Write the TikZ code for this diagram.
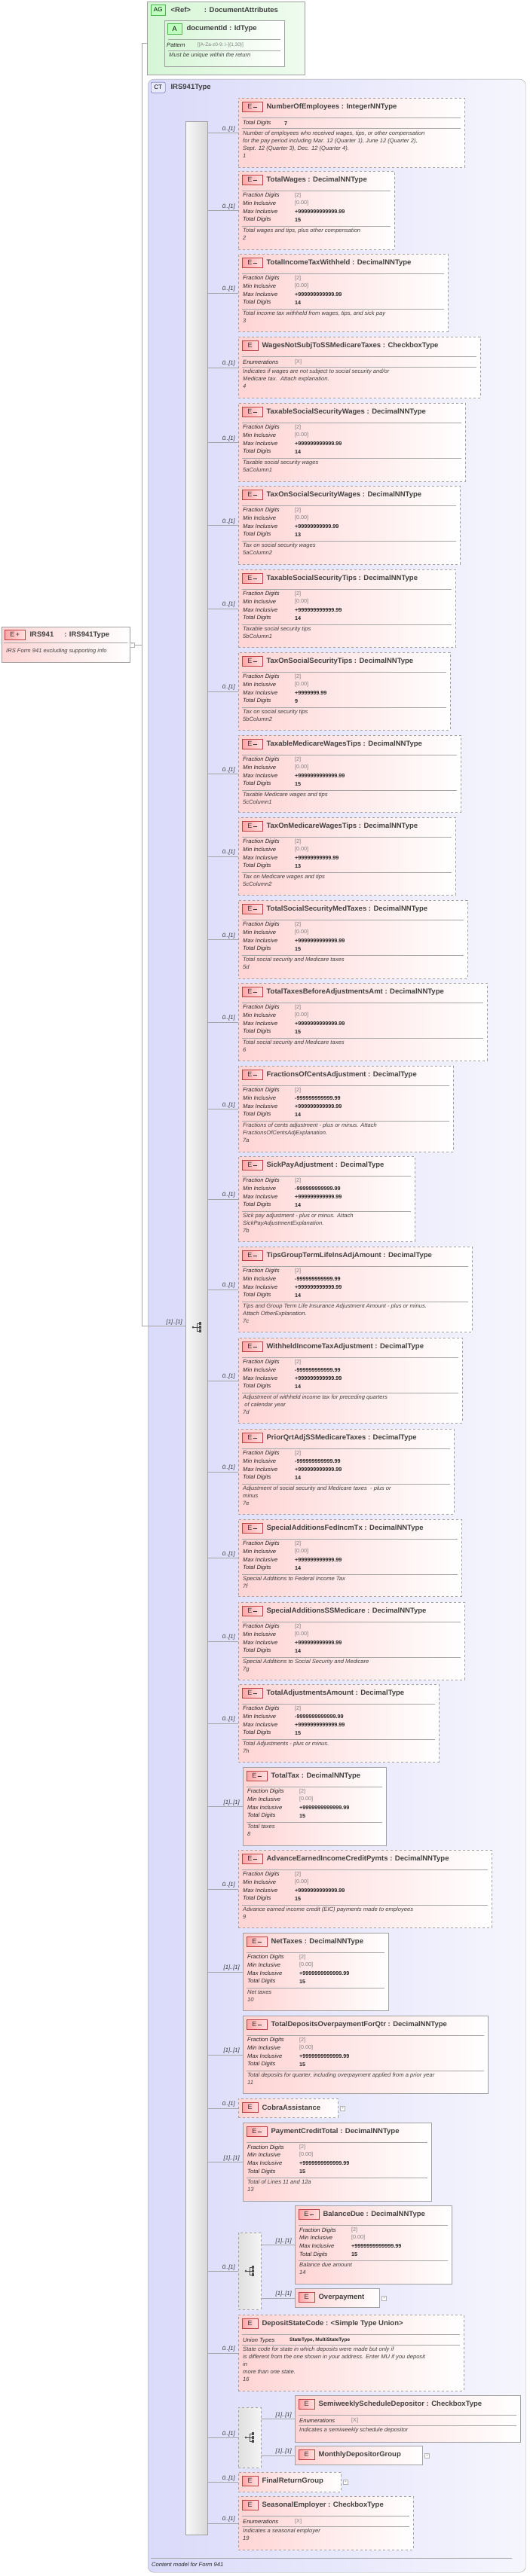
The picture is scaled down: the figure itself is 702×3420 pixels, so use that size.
\documentclass[tikz,border=0pt]{standalone}
\usepackage{fontspec}
\setmainfont{Liberation Sans}
\usetikzlibrary{positioning}

\definecolor{elpink}{RGB}{255,212,212}
\definecolor{ctblue}{RGB}{218,218,250}
\definecolor{aggreen}{RGB}{214,246,214}
\definecolor{edge}{RGB}{160,160,160}

\newcommand{\gv}[1]{{\color{gray}\mdseries #1}}
\newcommand{\iconmtxt}{E\,\rule[.3ex]{5pt}{1.8pt}}
\newcommand{\iconptxt}{E}

% element box with icon and title
\newcommand{\elbox}[8]{%
  \node[#2, minimum width=#5pt-#3pt, minimum height=#6pt-#4pt] (#1) at (#3,#4) {};
  \node[#7] (#1i) at ([xshift=5pt,yshift=-5pt]#1.north west) {\csname #7txt\endcsname};
  \node[ttl, right=5pt of #1i] {#8};}
\newcommand{\sepl}[2]{\draw[sep] ([xshift=5pt,yshift=-#2pt]#1.north west) -- ([xshift=-5pt,yshift=-#2pt]#1.north east);}
\newcommand{\prow}[4]{%
  \node[plab] at ([xshift=6pt,yshift=-#2pt]#1.north west) {#3};
  \node[pval] at ([xshift=75pt,yshift=-#2pt]#1.north west) {#4};}
\newcommand{\desc}[3]{\node[pdesc] at ([xshift=6pt,yshift=-#2pt]#1.north west) {#3};}
\newcommand{\decrows}[5]{%
  \sepl{#1}{26}
  \prow{#1}{33}{Fraction Digits}{\gv{[2]}}
  \prow{#1}{43}{Min Inclusive}{#2}
  \prow{#1}{54}{Max Inclusive}{#3}
  \prow{#1}{65}{Total Digits}{#4}
  \sepl{#1}{73}
  \desc{#1}{76}{#5}}
\newcommand{\chkrows}[2]{%
  \sepl{#1}{26}
  \prow{#1}{34}{Enumerations}{\gv{[X]}}
  \sepl{#1}{40}
  \desc{#1}{43}{#2}}
\newcommand{\conn}[3]{\draw[line] (#2.west -| #1.east) -- (#2.west) node[mult, pos=1, anchor=south east, xshift=-3pt] {#3};}
\newcommand{\plusbox}[1]{\node[plusb, right=3pt of #1] {+};}
\newcommand{\seqmark}[2]{%
  \fill[black!70] ({#1-6},#2) circle (1.5);
  \draw[black!70] ({#1-6},#2) -- ({#1-1},#2) ({#1-1},{#2-5}) -- ({#1-1},{#2+5});
  \foreach \dy in {-5,0,5} {\draw[black!70] ({#1-1},{#2+\dy}) -- ({#1+2},{#2+\dy});
    \fill[black!70] ({#1+2},{#2+\dy-1.6}) rectangle ({#1+5},{#2+\dy+1.6});}}

\tikzset{
  elbase/.style={anchor=north west, inner sep=0pt, left color=elpink, right color=white, draw=edge},
  optel/.style={elbase, dashed},
  reqel/.style={elbase},
  choice/.style={anchor=north west, inner sep=0pt, dashed, draw=edge, left color=gray!25, right color=gray!8},
  eicon/.style={anchor=north west, draw=red!50!gray, left color=red!35, right color=red!12, inner sep=0pt,
    minimum height=13pt, font=\fontsize{9}{9}\selectfont, text=black!80},
  iconm/.style={eicon, minimum width=27pt},
  iconp/.style={eicon, minimum width=21pt},
  ttl/.style={inner sep=0pt, font=\fontsize{9.5}{11}\selectfont\bfseries, text=black!75},
  sep/.style={draw=gray!70},
  plab/.style={anchor=west, inner sep=0pt, font=\fontsize{7.6}{9}\selectfont\itshape, text=black!85},
  pval/.style={anchor=west, inner sep=0pt, font=\fontsize{7.2}{9}\selectfont\bfseries, text=black!85},
  pdesc/.style={anchor=north west, inner sep=0pt, align=left, font=\fontsize{7.6}{10}\selectfont\itshape, text=black!75},
  mult/.style={inner sep=1pt, font=\fontsize{7.6}{9}\selectfont\itshape, text=black!80},
  line/.style={draw=gray!70},
  plusb/.style={draw=gray!60, fill=white, minimum size=6pt, inner sep=0pt, font=\tiny, text=gray}
}

\begin{document}
\begin{tikzpicture}[x=1pt, y=-1pt]
  \useasboundingbox (0,0) rectangle (702,3420);

  % attribute group
  \node[anchor=north west, inner sep=0pt, draw=edge, left color=aggreen, right color=aggreen!40, minimum width=209pt, minimum height=97pt] (ag) at (195,2) {};
  \node[anchor=north west, draw=green!40!gray, fill=green!25, inner sep=1pt, minimum width=19pt, minimum height=14pt, font=\fontsize{8}{8}\selectfont] (agi) at (200,6) {AG};
  \node[ttl, right=7pt of agi] {<Ref>\hspace{18pt}: DocumentAttributes};
  \node[anchor=north west, inner sep=0pt, draw=edge, left color=aggreen, right color=white, minimum width=159pt, minimum height=61pt] (docId) at (218,27) {};
  \node[anchor=north west, draw=green!40!gray, fill=green!25, inner sep=0pt, minimum width=19pt, minimum height=14pt, font=\fontsize{9}{9}\selectfont] (docIdi) at (222,31) {A};
  \node[ttl, right=6pt of docIdi] {documentId : IdType};
  \sepl{docId}{25}
  \node[plab] at ([xshift=3pt,yshift=-33pt]docId.north west) {Pattern};
  \node[pval, font=\fontsize{6.5}{8}\selectfont] at ([xshift=44pt,yshift=-33pt]docId.north west) {\gv{[[A-Za-z0-9:.\textbackslash-]\{1,30\}]}};
  \sepl{docId}{40}
  \desc{docId}{43}{Must be unique within the return};

  % root element
  \node[reqel, minimum width=170pt, minimum height=47pt] (root) at (2,832) {};
  \node[eicon, minimum width=27pt] (rooti) at (6,836) {E\,+};
  \node[ttl, right=6pt of rooti] {IRS941\hspace{14pt}: IRS941Type};
  \draw[sep] (5,853) -- (169,853);
  \desc{root}{29}{IRS Form 941 excluding supporting info}
  \node[draw=gray!60, fill=white, minimum size=6pt, inner sep=0pt, font=\tiny, text=gray, right=0pt of root] (rootm) {--};

  % complex type
  \node[anchor=north west, inner sep=0pt, rounded corners=8pt, draw=edge, left color=ctblue, right color=ctblue!25, minimum width=501pt, minimum height=3310pt] (ct) at (196,105) {};
  \node[anchor=north west, draw=blue!40!gray, fill=ctblue!60, rounded corners=2pt, inner sep=0pt, minimum width=19pt, minimum height=14pt, font=\fontsize{8}{8}\selectfont] (cti) at (200,109) {CT};
  \node[ttl, right=7pt of cti] {IRS941Type};
  \draw[sep] (200,3396) -- (679,3396);
  \node[plab] at (201,3405) {Content model for Form 941};

  \node[anchor=north west, inner sep=0pt, draw=edge, left color=white!95!gray, right color=gray!30, minimum width=29pt, minimum height=3204pt] (seq) at (246,161) {};

  \coordinate (tp) at (188,57);
  \coordinate (bt) at (188,1760);
  \draw[line] (ag.west |- tp) -- (tp) -- (bt) -- (seq.west |- bt) node[mult, pos=1, anchor=south east, xshift=-3pt] {[1]..[1]};
  \draw[line] (rootm.east) -- (rootm.east -| tp);
  \seqmark{262}{1762}

  % sequence content
  \elbox{nEmp}{optel}{316}{130}{616}{222}{iconm}{NumberOfEmployees : IntegerNNType}
  \sepl{nEmp}{26}
  \node[plab] at ([xshift=6pt,yshift=-34pt]nEmp.north west) {Total Digits};
  \node[pval] at ([xshift=61pt,yshift=-34pt]nEmp.north west) {7};
  \sepl{nEmp}{40}
  \desc{nEmp}{44}{Number of employees who received wages, tips, or other compensation\\for the pay period including Mar. 12 (Quarter 1), June 12 (Quarter 2),\\Sept. 12 (Quarter 3), Dec. 12 (Quarter 4).\\1}

  \elbox{nWag}{optel}{316}{227}{523}{331}{iconm}{TotalWages : DecimalNNType}
  \decrows{nWag}{\gv{[0.00]}}{+9999999999999.99}{15}{Total wages and tips, plus other compensation\\2}
  \elbox{nITW}{optel}{316}{337}{594}{440}{iconm}{TotalIncomeTaxWithheld : DecimalNNType}
  \decrows{nITW}{\gv{[0.00]}}{+999999999999.99}{14}{Total income tax withheld from wages, tips, and sick pay\\3}
  \elbox{nWNS}{optel}{316}{447}{637}{528}{iconp}{WagesNotSubjToSSMedicareTaxes : CheckboxType}
  \chkrows{nWNS}{Indicates if wages are not subject to social security and/or\\Medicare tax.\ \ Attach explanation.\\4}
  \elbox{nTSW}{optel}{316}{535}{617}{639}{iconm}{TaxableSocialSecurityWages : DecimalNNType}
  \decrows{nTSW}{\gv{[0.00]}}{+999999999999.99}{14}{Taxable social security wages\\5aColumn1}
  \elbox{nTOW}{optel}{316}{645}{610}{749}{iconm}{TaxOnSocialSecurityWages : DecimalNNType}
  \decrows{nTOW}{\gv{[0.00]}}{+99999999999.99}{13}{Tax on social security wages\\5aColumn2}
  \elbox{nTST}{optel}{316}{756}{604}{859}{iconm}{TaxableSocialSecurityTips : DecimalNNType}
  \decrows{nTST}{\gv{[0.00]}}{+999999999999.99}{14}{Taxable social security tips\\5bColumn1}
  \elbox{nTOT}{optel}{316}{866}{597}{969}{iconm}{TaxOnSocialSecurityTips : DecimalNNType}
  \decrows{nTOT}{\gv{[0.00]}}{+9999999.99}{9}{Tax on social security tips\\5bColumn2}
  \elbox{nTMW}{optel}{316}{976}{611}{1078}{iconm}{TaxableMedicareWagesTips : DecimalNNType}
  \decrows{nTMW}{\gv{[0.00]}}{+9999999999999.99}{15}{Taxable Medicare wages and tips\\5cColumn1}
  \elbox{nTOM}{optel}{316}{1085}{604}{1188}{iconm}{TaxOnMedicareWagesTips : DecimalNNType}
  \decrows{nTOM}{\gv{[0.00]}}{+99999999999.99}{13}{Tax on Medicare wages and tips\\5cColumn2}
  \elbox{nTSM}{optel}{316}{1195}{620}{1299}{iconm}{TotalSocialSecurityMedTaxes : DecimalNNType}
  \decrows{nTSM}{\gv{[0.00]}}{+9999999999999.99}{15}{Total social security and Medicare taxes\\5d}
  \elbox{nTTB}{optel}{316}{1305}{646}{1408}{iconm}{TotalTaxesBeforeAdjustmentsAmt : DecimalNNType}
  \decrows{nTTB}{\gv{[0.00]}}{+9999999999999.99}{15}{Total social security and Medicare taxes\\6}
  \elbox{nFCA}{optel}{316}{1415}{601}{1529}{iconm}{FractionsOfCentsAdjustment : DecimalType}
  \decrows{nFCA}{-999999999999.99}{+999999999999.99}{14}{Fractions of cents adjustment - plus or minus. Attach\\FractionsOfCentsAdjExplanation.\\7a}
  \elbox{nSPA}{optel}{316}{1535}{550}{1648}{iconm}{SickPayAdjustment : DecimalType}
  \decrows{nSPA}{-999999999999.99}{+999999999999.99}{14}{Sick pay adjustment - plus or minus. Attach\\SickPayAdjustmentExplanation.\\7b}
  \elbox{nTGT}{optel}{316}{1655}{626}{1768}{iconm}{TipsGroupTermLifeInsAdjAmount : DecimalType}
  \decrows{nTGT}{-999999999999.99}{+999999999999.99}{14}{Tips and Group Term Life Insurance Adjustment Amount - plus or minus.\\Attach OtherExplanation.\\7c}
  \elbox{nWIT}{optel}{316}{1776}{613}{1889}{iconm}{WithheldIncomeTaxAdjustment : DecimalType}
  \decrows{nWIT}{-999999999999.99}{+999999999999.99}{14}{Adjustment of withheld income tax for preceding quarters\\\ of calendar year\\7d}
  \elbox{nPQA}{optel}{316}{1897}{602}{2010}{iconm}{PriorQrtAdjSSMedicareTaxes : DecimalType}
  \decrows{nPQA}{-999999999999.99}{+999999999999.99}{14}{Adjustment of social security and Medicare taxes\ \ - plus or\\minus\\7e}
  \elbox{nSAF}{optel}{316}{2017}{612}{2119}{iconm}{SpecialAdditionsFedIncmTx : DecimalNNType}
  \decrows{nSAF}{\gv{[0.00]}}{+999999999999.99}{14}{Special Additions to Federal Income Tax\\7f}
  \elbox{nSAS}{optel}{316}{2127}{616}{2230}{iconm}{SpecialAdditionsSSMedicare : DecimalNNType}
  \decrows{nSAS}{\gv{[0.00]}}{+999999999999.99}{14}{Special Additions to Social Security and Medicare\\7g}
  \elbox{nTAA}{optel}{316}{2236}{582}{2339}{iconm}{TotalAdjustmentsAmount : DecimalType}
  \decrows{nTAA}{-9999999999999.99}{+9999999999999.99}{15}{Total Adjustments - plus or minus.\\7h}
  \elbox{nTTx}{reqel}{322}{2346}{512}{2450}{iconm}{TotalTax : DecimalNNType}
  \decrows{nTTx}{\gv{[0.00]}}{+9999999999999.99}{15}{Total taxes\\8}
  \elbox{nAEI}{optel}{316}{2456}{652}{2559}{iconm}{AdvanceEarnedIncomeCreditPymts : DecimalNNType}
  \decrows{nAEI}{\gv{[0.00]}}{+9999999999999.99}{15}{Advance earned income credit (EIC) payments made to employees\\9}
  \elbox{nNet}{reqel}{322}{2566}{515}{2669}{iconm}{NetTaxes : DecimalNNType}
  \decrows{nNet}{\gv{[0.00]}}{+9999999999999.99}{15}{Net taxes\\10}
  \elbox{nTDO}{reqel}{322}{2676}{647}{2779}{iconm}{TotalDepositsOverpaymentForQtr : DecimalNNType}
  \decrows{nTDO}{\gv{[0.00]}}{+9999999999999.99}{15}{Total deposits for quarter, including overpayment applied from a prior year\\11}
  \elbox{nCob}{optel}{316}{2786}{448}{2811}{iconp}{CobraAssistance}
  \plusbox{nCob}
  \elbox{nPCT}{reqel}{322}{2818}{572}{2922}{iconm}{PaymentCreditTotal : DecimalNNType}
  \decrows{nPCT}{\gv{[0.00]}}{+9999999999999.99}{15}{Total of Lines 11 and 12a\\13}

  \node[choice, minimum width=30pt, minimum height=102pt] (chA) at (316,2964) {};
  \seqmark{332}{3015}
  \elbox{nBal}{reqel}{391}{2928}{599}{3032}{iconm}{BalanceDue : DecimalNNType}
  \decrows{nBal}{\gv{[0.00]}}{+9999999999999.99}{15}{Balance due amount\\14}
  \elbox{nOvp}{reqel}{391}{3038}{503}{3063}{iconp}{Overpayment}
  \plusbox{nOvp}

  \elbox{nDSC}{optel}{316}{3073}{615}{3174}{iconp}{DepositStateCode : <Simple Type Union>}
  \sepl{nDSC}{26}
  \node[plab] at ([xshift=6pt,yshift=-34pt]nDSC.north west) {Union Types};
  \node[pval, font=\fontsize{6.5}{8}\selectfont\bfseries] at ([xshift=68pt,yshift=-34pt]nDSC.north west) {StateType, MultiStateType};
  \sepl{nDSC}{40}
  \desc{nDSC}{43}{State code for state in which deposits were made but only if\\is different from the one shown in your address. Enter MU if you deposit\\in\\more than one state.\\16}

  \node[choice, minimum width=30pt, minimum height=80pt] (chB) at (316,3196) {};
  \seqmark{332}{3236}
  \elbox{nSWS}{reqel}{391}{3180}{690}{3242}{iconp}{SemiweeklyScheduleDepositor : CheckboxType}
  \chkrows{nSWS}{Indicates a semiweekly schedule depositor}
  \elbox{nMDG}{reqel}{391}{3247}{560}{3272}{iconp}{MonthlyDepositorGroup}
  \plusbox{nMDG}

  \elbox{nFRG}{optel}{316}{3282}{452}{3308}{iconp}{FinalReturnGroup}
  \plusbox{nFRG}
  \elbox{nSea}{optel}{316}{3314}{548}{3385}{iconp}{SeasonalEmployer : CheckboxType}
  \chkrows{nSea}{Indicates a seasonal employer\\19}

  % connectors
  \foreach \el in {nEmp,nWag,nITW,nWNS,nTSW,nTOW,nTST,nTOT,nTMW,nTOM,nTSM,nTTB,nFCA,nSPA,nTGT,nWIT,nPQA,nSAF,nSAS,nTAA,nAEI,nCob,chA,nDSC,chB,nFRG,nSea}
    {\conn{seq}{\el}{0..[1]}}
  \foreach \el in {nTTx,nNet,nTDO,nPCT}
    {\conn{seq}{\el}{[1]..[1]}}
  \foreach \el in {nBal,nOvp}
    {\conn{chA}{\el}{[1]..[1]}}
  \foreach \el in {nSWS,nMDG}
    {\conn{chB}{\el}{[1]..[1]}}
\end{tikzpicture}
\end{document}
